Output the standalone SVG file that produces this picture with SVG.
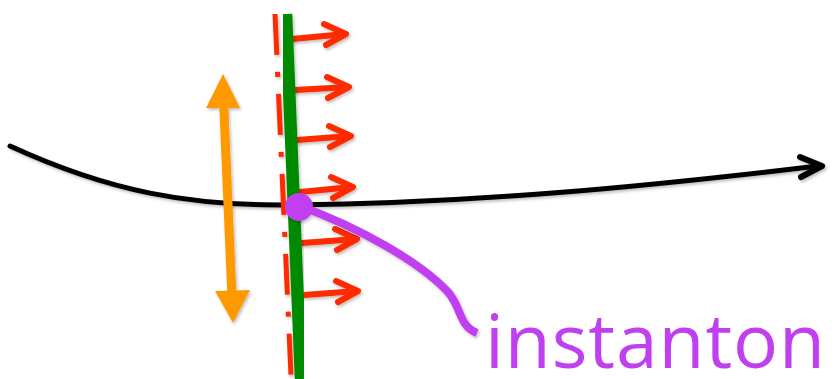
<svg xmlns="http://www.w3.org/2000/svg" width="834" height="379" viewBox="0 0 834 379">
  <defs>
    <filter id="sh" x="-20%" y="-20%" width="140%" height="140%">
      <feDropShadow dx="1.5" dy="2" stdDeviation="1.5" flood-color="#000" flood-opacity="0.25"/>
    </filter>
  </defs>
  <style>
    .red { stroke: #ff2a00; stroke-width: 6; fill: none; stroke-linecap: round; stroke-linejoin: round; }
    .redhead { stroke: #ff2a00; stroke-width: 6; fill: none; stroke-linecap: round; stroke-linejoin: round; }
  </style>
  <rect width="834" height="379" fill="#ffffff"/>

  <g id="trajectory" filter="url(#sh)">
    <path d="M10,146 C110,192 190,206 290,205 C480,203 650,186 818,166" fill="none" stroke="#000" stroke-width="5" stroke-linecap="round"/>
    <polyline points="800,157 822,166 801,177" fill="none" stroke="#000" stroke-width="6" stroke-linecap="round" stroke-linejoin="round"/>
  </g>

  <g id="orange-arrow" filter="url(#sh)">
    <line x1="223.5" y1="100" x2="232" y2="298" stroke="#ff9900" stroke-width="9"/>
    <polygon points="223,74 240,108 206,108" fill="#ff9900"/>
    <polygon points="233,323 250,290 215,291" fill="#ff9900"/>
  </g>

  <g id="dashdot-line" filter="url(#sh)">
    <line x1="275" y1="14" x2="291" y2="376" stroke="#ff2a00" stroke-width="5" stroke-dasharray="41 17 5 17"/>
  </g>

  <g id="red-arrows" filter="url(#sh)">
    <path class="red" d="M292,39 L345,34"/><polyline class="redhead" points="324,24 346,34 326,45"/>
    <path class="red" d="M295,90 L348,87"/><polyline class="redhead" points="327,77 349,87 328,98"/>
    <path class="red" d="M297,140 L350,136"/><polyline class="redhead" points="329,126 351,136 330,147"/>
    <path class="red" d="M300,192 L352,187"/><polyline class="redhead" points="331,177 353,187 333,198"/>
    <path class="red" d="M302,243 L356,239"/><polyline class="redhead" points="335,229 357,239 337,250"/>
    <path class="red" d="M304,295 L357,291"/><polyline class="redhead" points="336,281 358,291 338,302"/>
  </g>

  <g id="green-line" filter="url(#sh)">
    <line x1="286" y1="14" x2="301" y2="379" stroke="#008a00" stroke-width="12.5"/>
  </g>

  <g id="instanton" filter="url(#sh)">
    <path d="M300,206 C360,228 420,262 448,292 C462,308 458,325 477,333" fill="none" stroke="#c040f0" stroke-width="8" stroke-linecap="butt"/>
    <circle cx="299" cy="207" r="14" fill="#c040f0"/>
  </g>
  <text x="485" y="368" font-family="'Open Sans', 'Liberation Sans', sans-serif" font-size="75" fill="#c040f0" textLength="340">instanton</text>
</svg>
